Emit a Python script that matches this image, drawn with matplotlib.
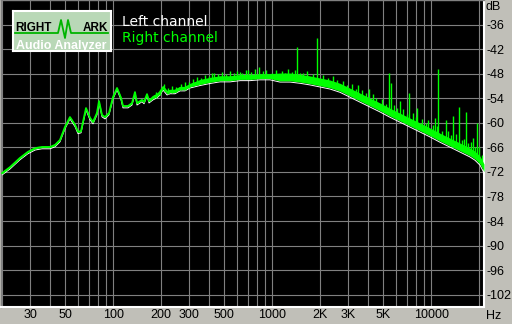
import numpy as np
import matplotlib
matplotlib.use("Agg")
import matplotlib.pyplot as plt

# spectrum level (Hz, dB), right channel on top of left
freq = [20.0, 22.5, 25.9, 29.1, 32.3, 35.7, 40.1, 43.1, 46.3, 49.8,
        53.5, 57.6, 60.1, 62.8, 67.5, 71.5, 74.7, 79.1, 81.5, 85.1,
        88.9, 94.2, 99.8, 105.8, 112.1, 115.3, 124.0, 131.4, 137.2, 141.3,
        151.9, 156.4, 163.3, 168.1, 178.1, 188.8, 197.2, 205.9, 218.2, 227.9,
        244.9, 263.4, 283.1, 304.3, 351.8, 406.6, 469.9, 543.3, 628.0, 726.0,
        838.8, 969.4, 1120, 1295, 1497, 1730, 2000, 2312, 2672, 3088,
        3569, 4126, 4769, 5512, 6371, 7364, 8511, 9836, 11370, 13140,
        15190, 17550, 18880, 20290, 21500]
level = [-72.3, -70.8, -68.6, -67.1, -66.2, -65.9, -65.9, -65.4, -64.2, -61.0,
         -58.6, -60.5, -62.2, -62.0, -56.4, -58.8, -59.8, -57.6, -54.7, -58.1,
         -58.6, -57.6, -53.7, -51.5, -53.9, -55.9, -55.9, -55.2, -52.5, -55.2,
         -54.4, -54.9, -53.0, -54.7, -53.7, -53.2, -52.5, -51.3, -52.5, -52.2,
         -52.2, -51.5, -51.5, -50.8, -50.0, -49.5, -49.1, -49.1, -48.8, -48.8,
         -48.6, -48.6, -48.8, -48.8, -49.1, -49.5, -50.0, -50.5, -51.3, -52.5,
         -53.7, -54.9, -56.1, -57.4, -58.6, -59.8, -61.0, -62.2, -63.5, -64.7,
         -65.9, -67.1, -67.9, -69.1, -71.0]
# half width of the noise band around the level (dB)
spread = [0.15] * 34 + [0.4] * 10 + [0.6] * 8 + [0.95] * 23

# noise fuzz on top of the band (Hz, height above level in dB)
fuzz_freq = [185, 196, 210, 222, 236, 250, 268, 285, 300, 318,
             335, 356, 380, 400, 430, 455, 485, 510, 540, 575,
             600, 650, 680, 740, 780, 870, 920, 1050, 1150, 1250,
             1330, 1390, 1500, 1650, 1800, 2100, 2250, 2400, 2550, 2800,
             2950, 3200, 3350, 3700, 3900, 4300, 4500, 4900, 5200, 5800,
             6100, 6700, 7000, 7700, 8000, 8800, 9300, 9600, 10200, 10900,
             11700, 12700, 13400, 14300, 15600, 16200, 17000, 17900, 19000, 19900,
             20800]
fuzz_height = [1.0, 0.6, 1.2, 0.8, 1.3, 0.7, 1.1, 1.4, 0.8, 1.2,
               1.5, 0.9, 1.3, 1.0, 1.6, 1.1, 1.4, 0.9, 1.7, 1.2,
               1.5, 1.0, 1.6, 1.3, 1.8, 1.2, 1.5, 1.7, 1.4, 2.0,
               1.2, 1.8, 1.3, 2.1, 1.5, 1.8, 1.3, 2.2, 1.6, 2.0,
               1.4, 2.3, 1.5, 2.0, 1.6, 2.4, 1.7, 2.1, 1.5, 2.2,
               1.8, 2.3, 1.6, 2.5, 1.9, 2.2, 1.7, 2.6, 2.0, 2.3,
               1.8, 2.4, 1.9, 2.7, 2.0, 2.5, 1.9, 2.6, 2.1, 2.8,
               2.0]

# single peaks sticking out of the noise (Hz, top dB)
spike_freq = [418.6, 628, 705, 827, 998, 1205, 1434, 1564, 1915, 3469,
              4068, 5433, 5592, 6371, 7257, 8150, 10570, 11045, 12400, 13720,
              14970, 16570, 18340, 19430]
spike_top = [-47.8, -47.6, -47.1, -46.4, -47.8, -47.8, -41.5, -47.8, -39.3, -50.8,
             -51.7, -47.8, -50.3, -54.7, -52.7, -56.4, -58.8, -46.9, -59.3, -58.3,
             -56.1, -57.4, -63.7, -60.0]

xtick_vals = [30, 50, 100, 200, 300, 500, 1000, 2000, 3000, 5000, 10000]
xtick_text = ["30", "50", "100", "200", "300", "500", "1000", "2K", "3K", "5K", "10000"]
ytick_vals = [-36, -42, -48, -54, -60, -66, -72, -78, -84, -90, -96, -102]

W, H = 512, 324
BG = "#c0bfb8"
GREEN = "#00ff00"
GRID = "#808080"


def fx(px):
    return px / W


def fy(py):
    return 1 - py / H


fig = plt.figure(figsize=(W / 100, H / 100), dpi=100, facecolor=BG)
ax = fig.add_axes([fx(1), fy(307), 483 / W, 307 / H])
ax.set_facecolor("black")
ax.set_xscale("log")
ax.set_xlim(19.71, 21500)
ax.set_ylim(-105, -30)

# grid
minor = [f for d in (10, 100, 1000) for f in range(2 * d, 10 * d + 1, d)] + [20000]
ax.set_xticks(xtick_vals, xtick_text)
ax.set_xticks([m for m in minor if m not in xtick_vals], minor=True)
ax.set_yticks(ytick_vals, [str(v) for v in ytick_vals])
ax.grid(True, which="both", color=GRID, linewidth=0.8)
ax.set_axisbelow(True)
ax.tick_params(which="both", length=0, labelsize=9, colors="black")
ax.tick_params(axis="x", pad=1.5)
ax.tick_params(axis="y", pad=1.5)
ax.yaxis.tick_right()
for lab in ax.get_xticklabels() + ax.get_yticklabels():
    lab.set_fontfamily("Liberation Sans")
for lab in ax.get_yticklabels():
    lab.set_horizontalalignment("left")

for side in ("left", "top"):
    ax.spines[side].set_color(GRID)
    ax.spines[side].set_linewidth(1.0)
for side in ("right", "bottom"):
    ax.spines[side].set_color("white")
    ax.spines[side].set_linewidth(1.5)

f = np.array(freq)
lv = np.array(level)
sp = np.array(spread)

# left channel peeks out below the right one
ax.plot(f, lv - sp - 0.3, color="white", linewidth=0.7, zorder=2)
ax.fill_between(f, lv - sp, lv + sp, color=GREEN, linewidth=0, zorder=3)
ax.plot(f, lv, color=GREEN, linewidth=1.3, zorder=4)

fz_base = np.interp(np.log10(fuzz_freq), np.log10(f), lv)
ax.vlines(fuzz_freq, fz_base - 0.5, fz_base + np.array(fuzz_height), color=GREEN,
          linewidth=1.0, zorder=4)
base = np.interp(np.log10(spike_freq), np.log10(f), lv)
ax.vlines(spike_freq, base, spike_top, color=GREEN, linewidth=1.0, zorder=4)

fig.text(fx(486), fy(6.5), "dB", fontsize=9, family="Liberation Sans", va="center", ha="left")
fig.text(fx(486), fy(316), "Hz", fontsize=9, family="Liberation Sans", va="center", ha="left")

# legend
fig.text(fx(122), fy(22), "Left channel", color="white", fontsize=10, va="center", ha="left")
fig.text(fx(122), fy(38), "Right channel", color=GREEN, fontsize=10, va="center", ha="left")

# logo
lg = fig.add_axes([fx(13), fy(51), 98 / W, 40 / H])
lg.set_xlim(13, 111)
lg.set_ylim(51, 11)
lg.set_facecolor("#b9d8b7")
lg.set_xticks([])
lg.set_yticks([])
for s in lg.spines.values():
    s.set_color("white")
    s.set_linewidth(1.5)
lg.plot([15, 58, 61, 65, 68, 71, 108], [33, 33, 20, 38, 20, 33, 33], color="#00b400", linewidth=1.3)
lg.text(15.5, 31, "RIGHT", fontsize=8.5, fontweight="bold", family="Liberation Sans", va="baseline")
lg.text(83, 31, "ARK", fontsize=8.5, fontweight="bold", family="Liberation Sans", va="baseline")
lg.text(15.5, 49.5, "Audio Analyzer", fontsize=9, fontweight="bold", family="Liberation Sans",
        color="white", va="baseline")

fig.savefig("out.png", dpi=100, facecolor=fig.get_facecolor())
